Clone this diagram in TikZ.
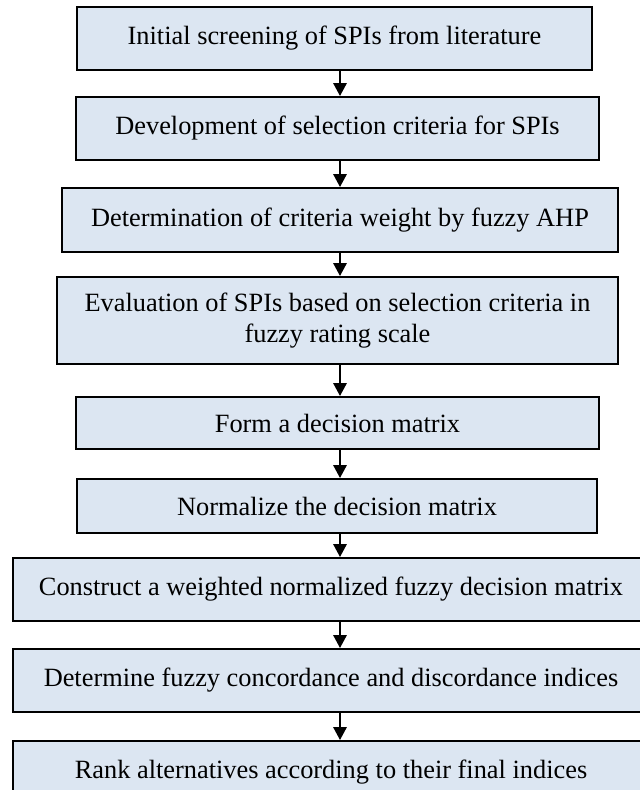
\documentclass[tikz,border=0pt]{standalone}
\usepackage{fontspec}
\setmainfont{Liberation Serif}
\usetikzlibrary{arrows.meta}
\definecolor{stepfill}{HTML}{DCE6F2}

\begin{document}
\begin{tikzpicture}[flow/.style={-{Triangle[width=0.26cm,length=0.26cm]}, line width=1.6pt}]

\useasboundingbox (0,0) rectangle (12.78,-15.8);
\coordinate (axis) at (6.8,0);

\begin{scope}[every node/.style={draw,shape=rectangle,fill=stepfill,line width=1pt,inner sep=0pt,align=center,font=\fontsize{15}{17.5}\selectfont,minimum height=1.26cm}]
    \path (6.69,-0.77) node[minimum width=10.3cm] (screening) {Initial screening of SPIs from literature};
    \path (screening) +(0.06,-1.8) node[minimum width=10.46cm] (criteria) {Development of selection criteria for SPIs};
    \path (criteria) +(0.05,-1.83) node[minimum width=11.12cm, minimum height=1.28cm] (weight) {Determination of criteria weight by fuzzy AHP};
    \path (weight) +(-0.05,-2.01) node[minimum width=11.22cm, minimum height=1.74cm] (evaluation) {Evaluation of SPIs based on selection criteria in\\ fuzzy rating scale};
    \path (evaluation) +(0,-2.05) node[minimum width=10.46cm, minimum height=1.04cm] (matrix) {Form a decision matrix};
    \path (matrix) +(-0.01,-1.66) node[minimum width=10.4cm, minimum height=1.08cm] (normalize) {Normalize the decision matrix};
    \path (normalize) +(-0.12,-1.67) node[minimum width=12.72cm] (weighted) {Construct a weighted normalized fuzzy decision matrix};
    \path (weighted) +(0,-1.82) node[minimum width=12.72cm] (indices) {Determine fuzzy concordance and discordance indices};
    \path (indices) +(0,-1.84) node[minimum width=12.72cm] (rank) {Rank alternatives according to their final indices};
\end{scope}


\draw[flow] (screening.south -| axis) -- (criteria.north -| axis);
\draw[flow] (criteria.south -| axis) -- (weight.north -| axis);
\draw[flow] (weight.south -| axis) -- (evaluation.north -| axis);
\draw[flow] (evaluation.south -| axis) -- (matrix.north -| axis);
\draw[flow] (matrix.south -| axis) -- (normalize.north -| axis);
\draw[flow] (normalize.south -| axis) -- (weighted.north -| axis);
\draw[flow] (weighted.south -| axis) -- (indices.north -| axis);
\draw[flow] (indices.south -| axis) -- (rank.north -| axis);

\end{tikzpicture}
\end{document}
